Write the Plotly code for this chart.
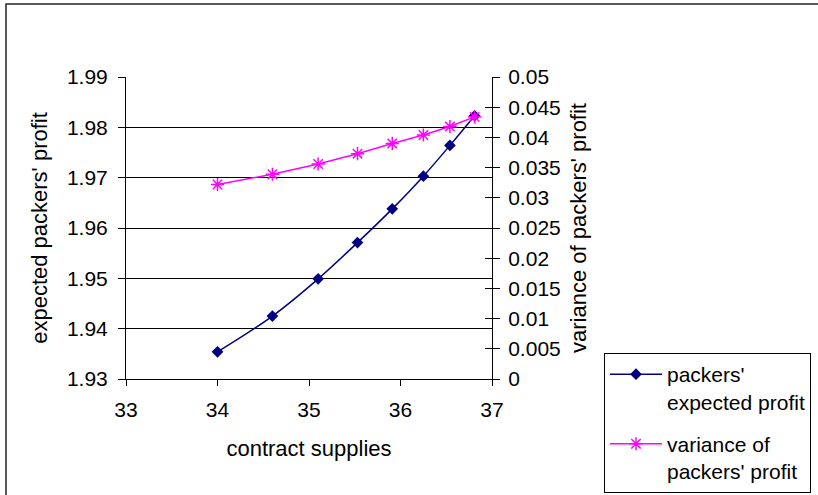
import plotly.graph_objects as go

# ---- data ----
contract_supplies = [34.0, 34.6, 35.1, 35.53, 35.91, 36.25, 36.54, 36.81]
expected_profit = [1.9354, 1.9425, 1.9499, 1.9571, 1.9638, 1.9703, 1.9764, 1.9823]
variance_profit = [0.0322, 0.0339, 0.0356, 0.0373, 0.0390, 0.0404, 0.0418, 0.0434]

x_ticks = [33, 34, 35, 36, 37]
left_ticks = [1.93, 1.94, 1.95, 1.96, 1.97, 1.98, 1.99]
left_labels = ["1.93", "1.94", "1.95", "1.96", "1.97", "1.98", "1.99"]
right_ticks = [0, 0.005, 0.01, 0.015, 0.02, 0.025, 0.03, 0.035, 0.04, 0.045, 0.05]
right_labels = ["0", "0.005", "0.01", "0.015", "0.02", "0.025", "0.03", "0.035", "0.04", "0.045", "0.05"]

W, H = 818, 495
L, R, T, B = 126, 492, 77, 379
FONT = "Liberation Sans, Arial, sans-serif"


def px(x):
    return (x - L) / (R - L)


def py(y):
    return (B - y) / (B - T)


fig = go.Figure()
fig.add_trace(go.Scatter(
    x=contract_supplies, y=expected_profit, name="packers'<br>expected profit",
    legendgroup="a",
    mode="lines+markers", line=dict(color="#000080", width=1.5, shape="spline"),
    marker=dict(symbol="diamond", size=9, color="#000080"),
    xaxis="x", yaxis="y"))
fig.add_trace(go.Scatter(
    x=contract_supplies, y=variance_profit, name="variance of<br>packers' profit",
    legendgroup="b",
    mode="lines+markers", line=dict(color="#FF00FF", width=1.5),
    marker=dict(symbol="asterisk-open", size=11, color="#FF00FF",
                line=dict(color="#FF00FF", width=1.5)),
    xaxis="x", yaxis="y2"))

axis_font = dict(family=FONT, size=21, color="black")
title_font = dict(family=FONT, size=22, color="black")

fig.update_layout(
    width=W, height=H,
    margin=dict(l=L, r=W - R, t=T, b=H - B, autoexpand=False),
    paper_bgcolor="white", plot_bgcolor="white",
    font=dict(family=FONT, size=21, color="black"),
    showlegend=True,
    legend=dict(x=px(604), y=py(353), xanchor="left", yanchor="top",
                bordercolor="black", borderwidth=1, bgcolor="white",
                font=dict(family=FONT, size=21, color="black"),
                valign="top", itemwidth=52, tracegroupgap=12,
                traceorder="grouped"),
    xaxis=dict(range=[33, 37], tickvals=x_ticks, ticks="outside", ticklen=6,
               tickcolor="black", showline=True, linecolor="black", linewidth=1,
               showgrid=False, zeroline=False, tickfont=axis_font,
               ticklabelstandoff=6,
               title=dict(text="contract supplies", font=title_font, standoff=20)),
    yaxis=dict(range=[1.93, 1.99], tickvals=left_ticks, ticktext=left_labels,
               ticks="outside", ticklen=7, tickcolor="black",
               showline=True, linecolor="black", linewidth=1,
               showgrid=True, gridcolor="black", gridwidth=1, zeroline=False,
               tickfont=axis_font, ticklabelstandoff=6,
               title=dict(text="expected packers' profit", font=title_font, standoff=13)),
    yaxis2=dict(range=[0, 0.05], tickvals=right_ticks, ticktext=right_labels,
                overlaying="y", side="right", anchor="x",
                ticks="outside", ticklen=7, tickcolor="black",
                showline=True, linecolor="black", linewidth=1,
                showgrid=False, zeroline=False, tickfont=axis_font,
                ticklabelstandoff=4,
                title=dict(text="variance of packers' profit", font=title_font, standoff=10)),
    yaxis3=dict(range=[0, 0.05], tickvals=right_ticks, overlaying="y", side="right",
                anchor="x", ticks="inside", ticklen=7, tickcolor="black",
                showticklabels=False, showline=False, showgrid=False, zeroline=False),
    shapes=[dict(type="rect", xref="paper", yref="paper",
                 x0=px(6), x1=px(830), y0=py(510), y1=py(4),
                 line=dict(color="#222222", width=1.5), fillcolor="rgba(0,0,0,0)",
                 layer="below")],
)
# invisible helper trace to activate the crossing-tick overlay axis
fig.add_trace(go.Scatter(x=[33], y=[0], xaxis="x", yaxis="y3", showlegend=False,
                         mode="markers", marker=dict(opacity=0), hoverinfo="skip"))

fig.write_html("out.html")
